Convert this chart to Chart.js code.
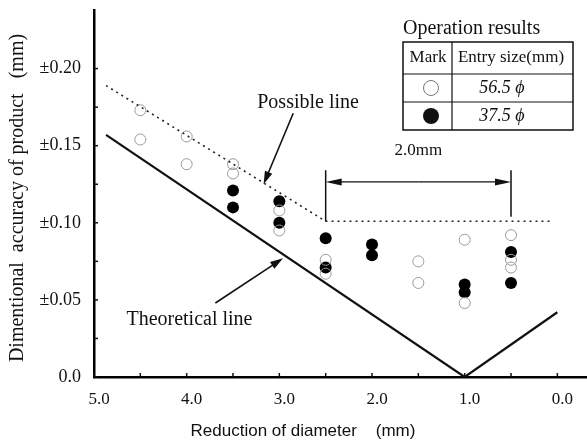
<!DOCTYPE html>
<html>
<head>
<meta charset="utf-8">
<script src="https://cdn.jsdelivr.net/npm/chart.js@4.4.1/dist/chart.umd.min.js"></script>
<style>
  html, body { margin: 0; padding: 0; background: #fff; }
  #wrap { width: 587px; height: 442px; position: relative; }
</style>
</head>
<body>
<div id="wrap"><canvas id="chart" width="587" height="442"></canvas></div>
<script>
// theoretical and possible accuracy lines (x = reduction of diameter, y = ± accuracy)
const theoX = [4.87, 1.0, 0.0];
const theoY = [0.157, 0.0, 0.042];
const possX = [4.87, 2.5, 0.05];
const possY = [0.189, 0.101, 0.101];

// operation results, entry size 56.5 (open) and 37.5 (filled)
const openX = [4.5, 4.5, 4.0, 4.0, 3.5, 3.5, 3.0, 3.0, 2.5, 2.5, 1.5, 1.5, 1.0, 1.0, 0.5, 0.5, 0.5];
const openY = [0.173, 0.154, 0.156, 0.138, 0.138, 0.132, 0.108, 0.095, 0.076, 0.067, 0.075, 0.061, 0.089, 0.048, 0.092, 0.076, 0.071];
const fillX = [3.5, 3.5, 3.0, 3.0, 2.5, 2.5, 2.0, 2.0, 1.0, 1.0, 0.5, 0.5];
const fillY = [0.121, 0.110, 0.114, 0.100, 0.090, 0.071, 0.086, 0.079, 0.060, 0.055, 0.081, 0.061];

const xTicks = [5.0, 4.5, 4.0, 3.5, 3.0, 2.5, 2.0, 1.5, 1.0, 0.5, 0.0];
const xLabels = ["5.0", "", "4.0", "", "3.0", "", "2.0", "", "1.0", "", "0.0"];
const yTicks = [0, 0.025, 0.05, 0.075, 0.10, 0.125, 0.15, 0.175, 0.20];
const yLabels = ["0.0", "", "\u00b10.05", "", "\u00b10.10", "", "\u00b10.15", "", "\u00b10.20"];

const legendTitle = "Operation results";
const legendHead = ["Mark", "Entry size(mm)"];
const legendRows = ["56.5 \u03d5", "37.5 \u03d5"];

const SERIF = "'Liberation Serif', 'Times New Roman', serif";
const SANS = "'Liberation Sans', Arial, sans-serif";

function pts(xs, ys) {
  return xs.map((x, i) => ({ x, y: ys[i] }));
}

function text(ctx, s, x, y, font, align = "center") {
  ctx.font = font;
  ctx.textAlign = align;
  ctx.textBaseline = "middle";
  ctx.fillStyle = "#111";
  ctx.fillText(s, x, y);
}

function arrow(ctx, x1, y1, x2, y2, len = 13, half = 4) {
  const a = Math.atan2(y2 - y1, x2 - x1);
  ctx.beginPath();
  ctx.moveTo(x1, y1);
  ctx.lineTo(x2 - Math.cos(a) * len * 0.6, y2 - Math.sin(a) * len * 0.6);
  ctx.stroke();
  ctx.beginPath();
  ctx.moveTo(x2, y2);
  ctx.lineTo(x2 - Math.cos(a) * len - Math.sin(a) * half, y2 - Math.sin(a) * len + Math.cos(a) * half);
  ctx.lineTo(x2 - Math.cos(a) * len + Math.sin(a) * half, y2 - Math.sin(a) * len - Math.cos(a) * half);
  ctx.closePath();
  ctx.fill();
}

const extras = {
  id: "extras",
  afterDraw(chart) {
    const { ctx } = chart;
    const sx = chart.scales.x, sy = chart.scales.y;
    const px = v => sx.getPixelForValue(v);
    const py = v => sy.getPixelForValue(v);
    const area = chart.chartArea;
    ctx.save();
    ctx.strokeStyle = "#111";
    ctx.fillStyle = "#111";

    // inward tick marks
    ctx.lineWidth = 1.5;
    for (const v of xTicks) {
      ctx.beginPath();
      ctx.moveTo(px(v), area.bottom);
      ctx.lineTo(px(v), area.bottom - 4);
      ctx.stroke();
    }
    for (const v of yTicks) {
      ctx.beginPath();
      ctx.moveTo(area.left, py(v));
      ctx.lineTo(area.left + 4, py(v));
      ctx.stroke();
    }

    // annotation arrows
    ctx.lineWidth = 1.6;
    arrow(ctx, px(2.85), py(0.171), px(3.17), py(0.125));
    arrow(ctx, px(3.69), py(0.048), px(2.96), py(0.077));
    text(ctx, "Possible line", px(2.69), py(0.178), "20px " + SERIF);
    text(ctx, "Theoretical line", px(3.97), py(0.037), "20px " + SERIF);

    // 2.0mm span
    ctx.lineWidth = 1.5;
    ctx.beginPath();
    ctx.moveTo(px(2.5), py(0.134)); ctx.lineTo(px(2.5), py(0.101));
    ctx.moveTo(px(0.5), py(0.134)); ctx.lineTo(px(0.5), py(0.104));
    ctx.stroke();
    ctx.lineWidth = 1.2;
    const ay = py(0.1265), mid = px(1.5);
    arrow(ctx, mid, ay, px(2.5), ay, 16, 3.5);
    arrow(ctx, mid, ay, px(0.5), ay, 16, 3.5);
    text(ctx, "2.0mm", mid, py(0.147), "17px " + SERIF);

    // operation results table
    const L = 403, R = 573, C = 452, T = 42, H1 = 74, H2 = 102, B = 130;
    text(ctx, legendTitle, L, 29, "20px " + SERIF, "left");
    ctx.lineWidth = 1.5;
    ctx.strokeRect(L, T, R - L, B - T);
    ctx.lineWidth = 1.2;
    ctx.beginPath();
    ctx.moveTo(L, H1); ctx.lineTo(R, H1);
    ctx.moveTo(L, H2); ctx.lineTo(R, H2);
    ctx.moveTo(C, T); ctx.lineTo(C, B);
    ctx.stroke();
    const cm = 431, ce = 511;
    text(ctx, legendHead[0], 428, (T + H1) / 2, "17px " + SERIF);
    text(ctx, legendHead[1], ce, (T + H1) / 2, "17px " + SERIF);
    text(ctx, legendRows[0], 502, (H1 + H2) / 2, "italic 18px " + SERIF);
    text(ctx, legendRows[1], 502, (H2 + B) / 2, "italic 18px " + SERIF);
    ctx.lineWidth = 1;
    ctx.strokeStyle = "#777";
    ctx.beginPath(); ctx.arc(cm, (H1 + H2) / 2, 7.5, 0, Math.PI * 2); ctx.stroke();
    ctx.beginPath(); ctx.arc(cm, (H2 + B) / 2, 8, 0, Math.PI * 2); ctx.fill();

    // axis titles
    text(ctx, "Reduction of diameter    (mm)", 303, 431, "17px " + SANS);
    ctx.translate(18, 198);
    ctx.rotate(-Math.PI / 2);
    text(ctx, "Dimentional  accuracy of product   (mm)", 0, 0, "20px " + SERIF);
    ctx.restore();
  }
};

new Chart(document.getElementById("chart"), {
  type: "scatter",
  data: {
    datasets: [
      {
        label: "Theoretical line",
        data: pts(theoX, theoY),
        showLine: true,
        borderColor: "#111",
        borderWidth: 2.2,
        pointRadius: 0
      },
      {
        label: "Possible line",
        data: pts(possX, possY),
        showLine: true,
        borderColor: "#222",
        borderWidth: 1.6,
        borderDash: [2, 4],
        pointRadius: 0
      },
      {
        label: "56.5",
        data: pts(openX, openY),
        pointRadius: 5.5,
        pointBorderWidth: 1,
        pointBackgroundColor: "rgba(255,255,255,0)",
        pointBorderColor: "#9a9a9a"
      },
      {
        label: "37.5",
        data: pts(fillX, fillY),
        pointRadius: 6,
        pointBorderWidth: 0,
        pointBackgroundColor: "#000"
      }
    ]
  },
  options: {
    responsive: false,
    animation: false,
    devicePixelRatio: 1,
    layout: { autoPadding: false, padding: { top: 10, right: 0, left: 0, bottom: 0 } },
    plugins: {
      legend: { display: false },
      tooltip: { enabled: false }
    },
    scales: {
      x: {
        type: "linear",
        reverse: true,
        min: -0.32,
        max: 5.0,
        afterBuildTicks: s => { s.ticks = xTicks.map(v => ({ value: v })); },
        afterFit: s => { s.height = 65; s.paddingLeft = 0; s.paddingRight = 0; },
        grid: { display: false },
        border: { display: true, color: "#000", width: 2.5 },
        ticks: {
          autoSkip: false,
          maxRotation: 0,
          padding: 4,
          labelOffset: 5,
          color: "#111",
          font: { family: SERIF, size: 17 },
          callback: (v, i) => xLabels[i]
        }
      },
      y: {
        type: "linear",
        min: 0,
        max: 0.238,
        afterBuildTicks: s => { s.ticks = yTicks.map(v => ({ value: v })); },
        afterFit: s => { s.width = 94; s.paddingTop = 0; s.paddingBottom = 0; },
        grid: { display: false },
        border: { display: true, color: "#000", width: 2.5 },
        ticks: {
          autoSkip: false,
          padding: 5,
          color: "#111",
          font: { family: SERIF, size: 18 },
          callback: (v, i) => yLabels[i]
        }
      }
    }
  },
  plugins: [extras]
});
</script>
</body>
</html>
